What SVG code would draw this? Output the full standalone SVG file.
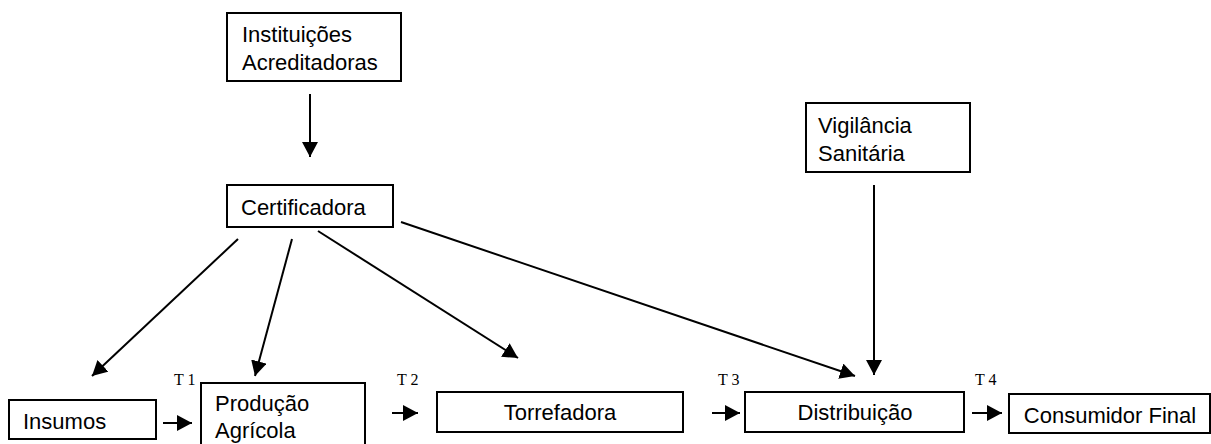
<svg xmlns="http://www.w3.org/2000/svg" width="1211" height="444" viewBox="0 0 1211 444">
<style>
.box{fill:#fff;stroke:#000;stroke-width:2}
.t{font-family:"Liberation Sans",Arial,sans-serif;font-size:22px;fill:#000}
.tc{font-family:"Liberation Sans",Arial,sans-serif;font-size:22px;fill:#000;text-anchor:middle}
.lbl{font-family:"Liberation Serif","Times New Roman",serif;font-size:16px;fill:#000}
.c line{stroke:#000;stroke-width:2;marker-end:url(#ah)}
</style>
<defs>
<marker id="ah" markerUnits="userSpaceOnUse" markerWidth="17" markerHeight="17" refX="15" refY="8" orient="auto">
<path d="M0,0 L15,8 L0,16 z" fill="#000"/>
</marker>
</defs>
<rect width="1211" height="444" fill="#fff"/>
<g id="instituicoes">
<rect class="box" x="227" y="13" width="174" height="68"/>
<text class="t" x="242" y="42">Instituições</text>
<text class="t" x="242" y="70">Acreditadoras</text>
</g>
<g id="certificadora">
<rect class="box" x="227" y="185" width="166" height="42"/>
<text class="t" x="241" y="215">Certificadora</text>
</g>
<g id="vigilancia">
<rect class="box" x="806" y="103" width="164" height="69"/>
<text class="t" x="818" y="133">Vigilância</text>
<text class="t" x="818" y="161">Sanitária</text>
</g>
<g id="insumos">
<rect class="box" x="9" y="400" width="147" height="39"/>
<text class="t" x="23" y="429">Insumos</text>
</g>
<g id="producao">
<rect class="box" x="201" y="383" width="164" height="70"/>
<text class="t" x="215" y="411">Produção</text>
<text class="t" x="215" y="438">Agrícola</text>
</g>
<g id="torrefadora">
<rect class="box" x="437" y="392" width="246" height="40"/>
<text class="tc" x="560" y="420">Torrefadora</text>
</g>
<g id="distribuicao">
<rect class="box" x="745" y="392" width="219" height="40"/>
<text class="tc" x="855" y="420">Distribuição</text>
</g>
<g id="consumidor">
<rect class="box" x="1009" y="394" width="201" height="39"/>
<text class="tc" x="1110" y="423">Consumidor Final</text>
</g>
<g id="labels">
<text class="lbl" x="174" y="385">T 1</text>
<text class="lbl" x="397" y="385">T 2</text>
<text class="lbl" x="718" y="385">T 3</text>
<text class="lbl" x="975" y="385">T 4</text>
</g>
<g class="c" id="connectors">
<line x1="310" y1="94" x2="310" y2="157"/>
<line x1="238" y1="239" x2="92" y2="376"/>
<line x1="292" y1="239" x2="255" y2="376"/>
<line x1="318" y1="231" x2="518" y2="358"/>
<line x1="401" y1="222" x2="855" y2="376"/>
<line x1="874" y1="185" x2="874" y2="375"/>
<line x1="163" y1="423" x2="192" y2="423"/>
<line x1="392" y1="413" x2="418" y2="413"/>
<line x1="712" y1="413" x2="740" y2="413"/>
<line x1="972" y1="413" x2="1002" y2="413"/>
</g>
</svg>
